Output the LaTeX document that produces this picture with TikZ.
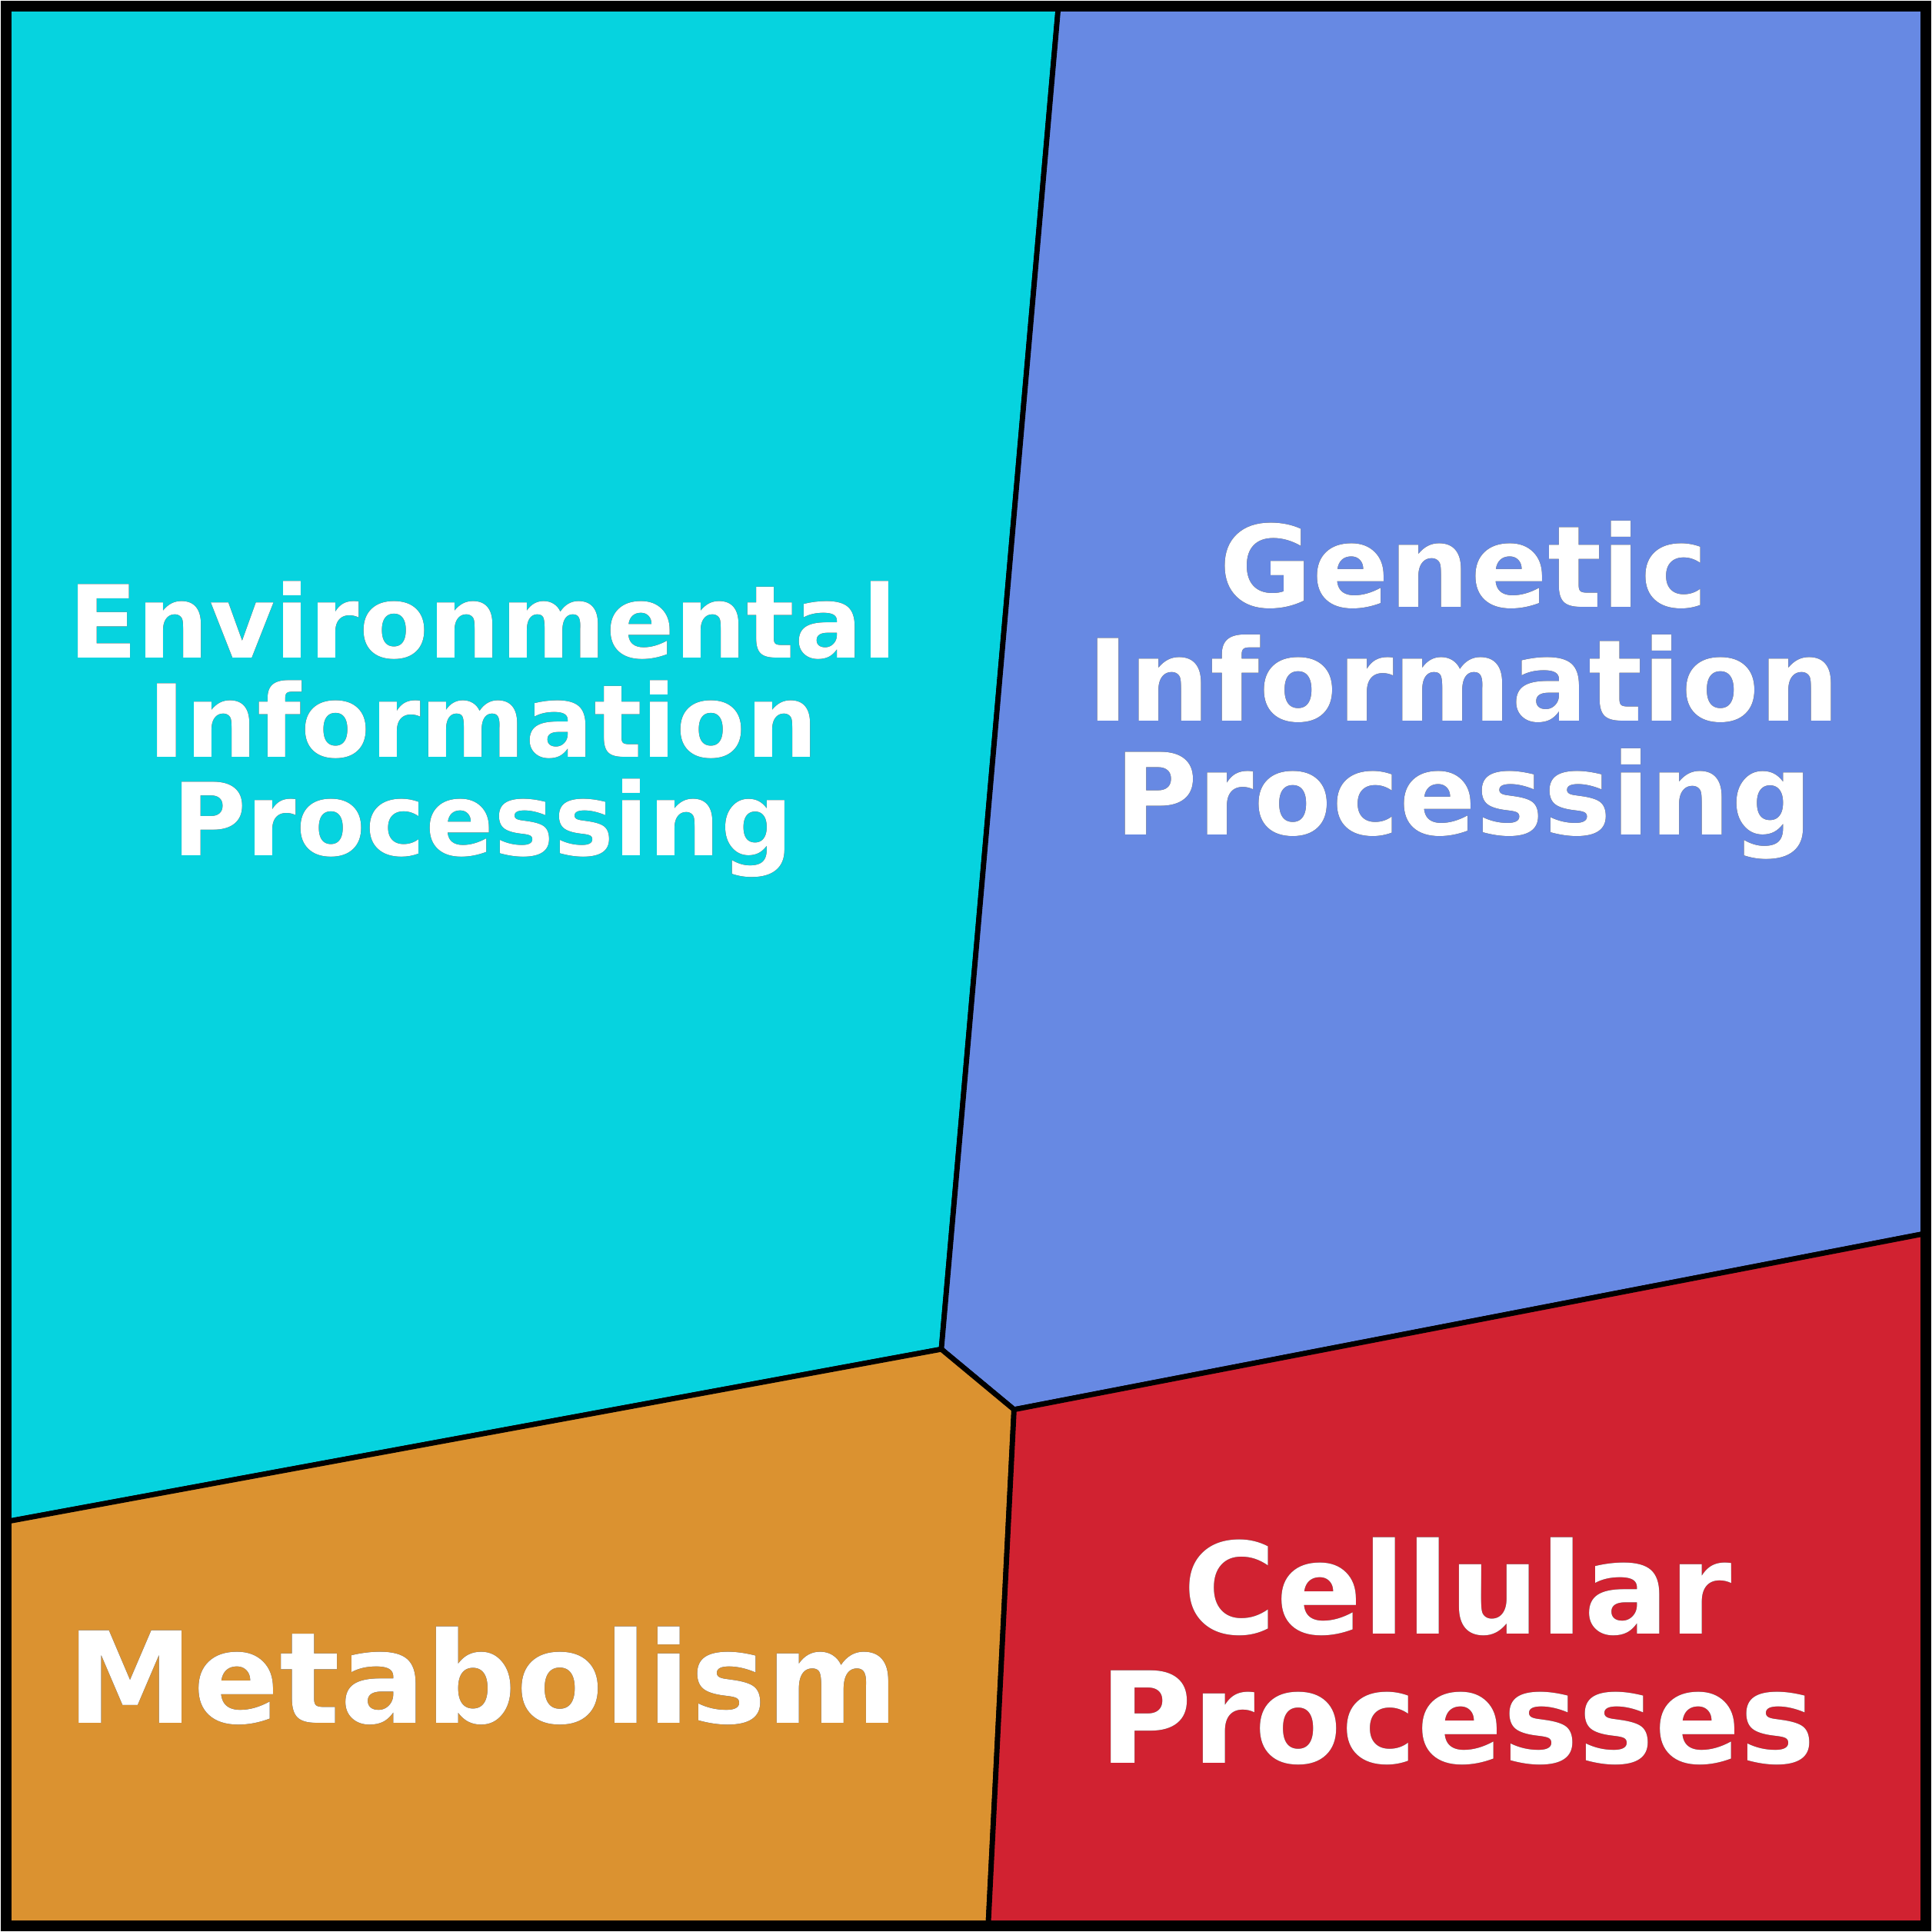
\documentclass[tikz,border=0pt]{standalone}
\usepackage{fontspec}
\setmainfont{DejaVu Sans}
\usepackage[outline]{contour}
\contourlength{0.35pt}
\definecolor{envcol}{HTML}{06D3DF}
\definecolor{gencol}{HTML}{6789E3}
\definecolor{metcol}{HTML}{DB9230}
\definecolor{celcol}{HTML}{D12231}
\tikzset{
  region/.style={draw=black, line width=1.2pt, line join=round},
  label/.style={text=white, align=center, font=\bfseries}
}
\newcommand{\wtext}[1]{\contour{black}{#1}}
\begin{document}
\begin{tikzpicture}[x=0.01cm, y=-0.01cm]
				\useasboundingbox (0,0) rectangle (1568,1568);
				% corners and junctions
				\coordinate (tl) at (5,5);
				\coordinate (tr) at (1563,5);
				\coordinate (br) at (1563,1563);
				\coordinate (bl) at (5,1563);
				\coordinate (top) at (859,5);
				\coordinate (mid) at (764,1095);
				\coordinate (left) at (5,1235);
				\coordinate (cen) at (823,1144);
				\coordinate (right) at (1563,1001);
				\coordinate (bot) at (802,1563);

				% regions
				\filldraw[region, fill=envcol] (tl) -- (top) -- (mid) -- (left) -- cycle;
				\filldraw[region, fill=gencol] (top) -- (tr) -- (right) -- (cen) -- (mid) -- cycle;
				\filldraw[region, fill=metcol] (left) -- (mid) -- (cen) -- (bot) -- (bl) -- cycle;
				\filldraw[region, fill=celcol] (cen) -- (right) -- (br) -- (bot) -- cycle;
				\draw[line width=2.5pt] (tl) rectangle (br);

				% labels
				\node[label, font=\fontsize{23.3}{22.8}\bfseries] (env) at (392,592)
					{\wtext{Environmental}\\\wtext{Information}\\\wtext{Processing}};
				\node[label, font=\fontsize{26.2}{26.3}\bfseries] (gen) at (1188,560)
					{\wtext{Genetic}\\\wtext{Information}\\\wtext{Processing}};
				\node[label, font=\fontsize{29.3}{29.3}\bfseries] (met) at (392,1360)
					{\wtext{Metabolism}};
				\node[label, font=\fontsize{29.3}{29.9}\bfseries] (cel) at (1183,1340)
					{\wtext{Cellular}\\\wtext{Processes}};
\end{tikzpicture}
\end{document}
